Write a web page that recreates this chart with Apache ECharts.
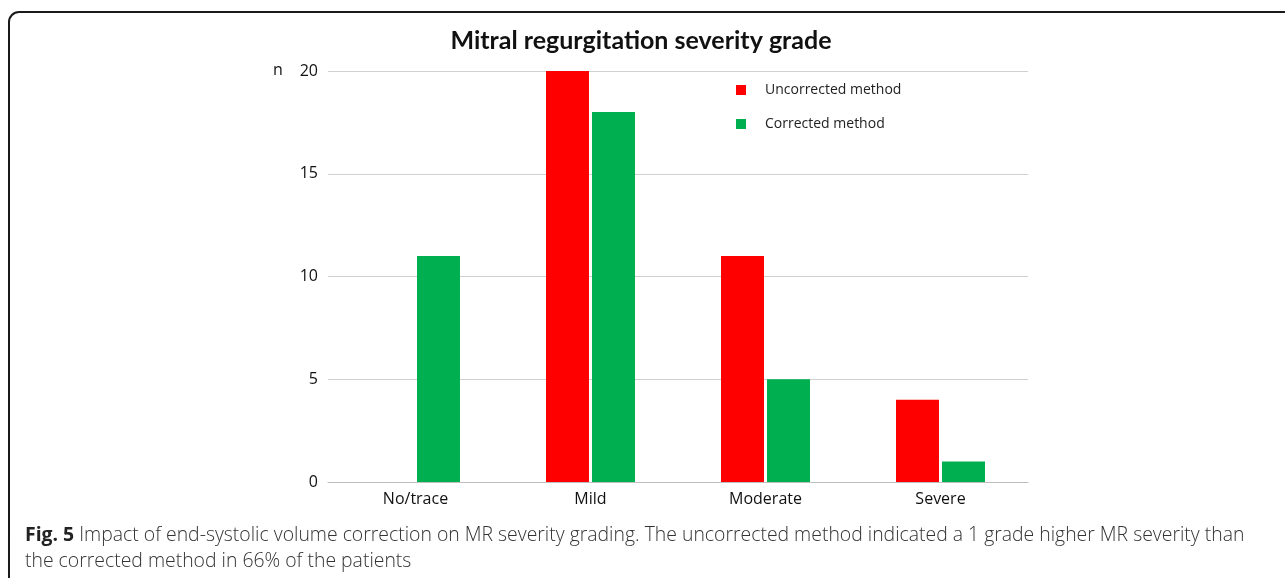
<!DOCTYPE html>
<html>
<head>
<meta charset="utf-8">
<script src="https://cdn.jsdelivr.net/npm/echarts@6/dist/echarts.min.js"></script>
<style>
  html, body { margin: 0; padding: 0; background: #fff; }
  #chart { width: 1285px; height: 578px; }
</style>
</head>
<body>
<div id="chart"></div>
<script>
// categories and counts
var categories = ['No/trace', 'Mild', 'Moderate', 'Severe'];
var uncorrected = [0, 20, 11, 4];
var corrected = [11, 18, 5, 1];
var yTicks = [0, 5, 10, 15, 20];

var chart = echarts.init(document.getElementById('chart'));

var option = {
  animation: false,
  backgroundColor: '#fff',
  title: {
    text: 'Mitral regurgitation severity grade',
    left: 636,
    textAlign: 'center',
    top: 23,
    textStyle: { fontFamily: 'Lato', fontWeight: 'bold', fontSize: 25, color: '#111' }
  },
  legend: {
    orient: 'vertical',
    left: 731,
    top: 78,
    itemWidth: 10,
    itemHeight: 10,
    itemGap: 20,
    icon: 'rect',
    textStyle: { fontFamily: 'Open Sans', fontSize: 14, color: '#222', padding: [0, 0, 0, 14] },
    data: ['Uncorrected method', 'Corrected method']
  },
  grid: { left: 328, right: 257, top: 71, bottom: 96 },
  xAxis: {
    type: 'category',
    data: categories,
    axisLine: { lineStyle: { color: '#bfbfbf', width: 1 } },
    axisTick: { show: false },
    axisLabel: { fontFamily: 'Open Sans', fontSize: 16, color: '#111', margin: 9 }
  },
  yAxis: {
    type: 'value',
    min: yTicks[0],
    max: yTicks[yTicks.length - 1],
    interval: 5,
    axisLine: { show: false },
    axisTick: { show: false },
    axisLabel: { fontFamily: 'Open Sans', fontSize: 16, color: '#111', margin: 10 },
    splitLine: { lineStyle: { color: '#d0d0d0', width: 1 } }
  },
  series: [
    {
      name: 'Uncorrected method',
      type: 'bar',
      data: uncorrected,
      barWidth: 43,
      barGap: '7%',
      itemStyle: { color: '#ff0000' }
    },
    {
      name: 'Corrected method',
      type: 'bar',
      data: corrected,
      barWidth: 43,
      itemStyle: { color: '#00b050' }
    }
  ],
  graphic: [
    {
      type: 'rect',
      shape: { x: 9, y: 12, width: 1320, height: 620, r: 10 },
      style: { fill: 'none', stroke: '#1a1a1a', lineWidth: 2 }
    },
    {
      type: 'text',
      left: 273,
      top: 62,
      style: { text: 'n', font: '16px "Open Sans"', fill: '#111' }
    },
    {
      type: 'text',
      left: 25,
      top: 522,
      style: {
        text: '{b|Fig. 5} Impact of end-systolic volume correction on MR severity grading. The uncorrected method indicated a 1 grade higher MR severity than\nthe corrected method in 66% of the patients',
        font: '300 19.4px "Open Sans"',
        fill: '#333',
        lineHeight: 26,
        rich: {
          b: { fontFamily: 'Open Sans', fontWeight: 'bold', fontSize: 19.4, fill: '#222', lineHeight: 26 }
        }
      }
    }
  ]
};

chart.setOption(option);
</script>
</body>
</html>
